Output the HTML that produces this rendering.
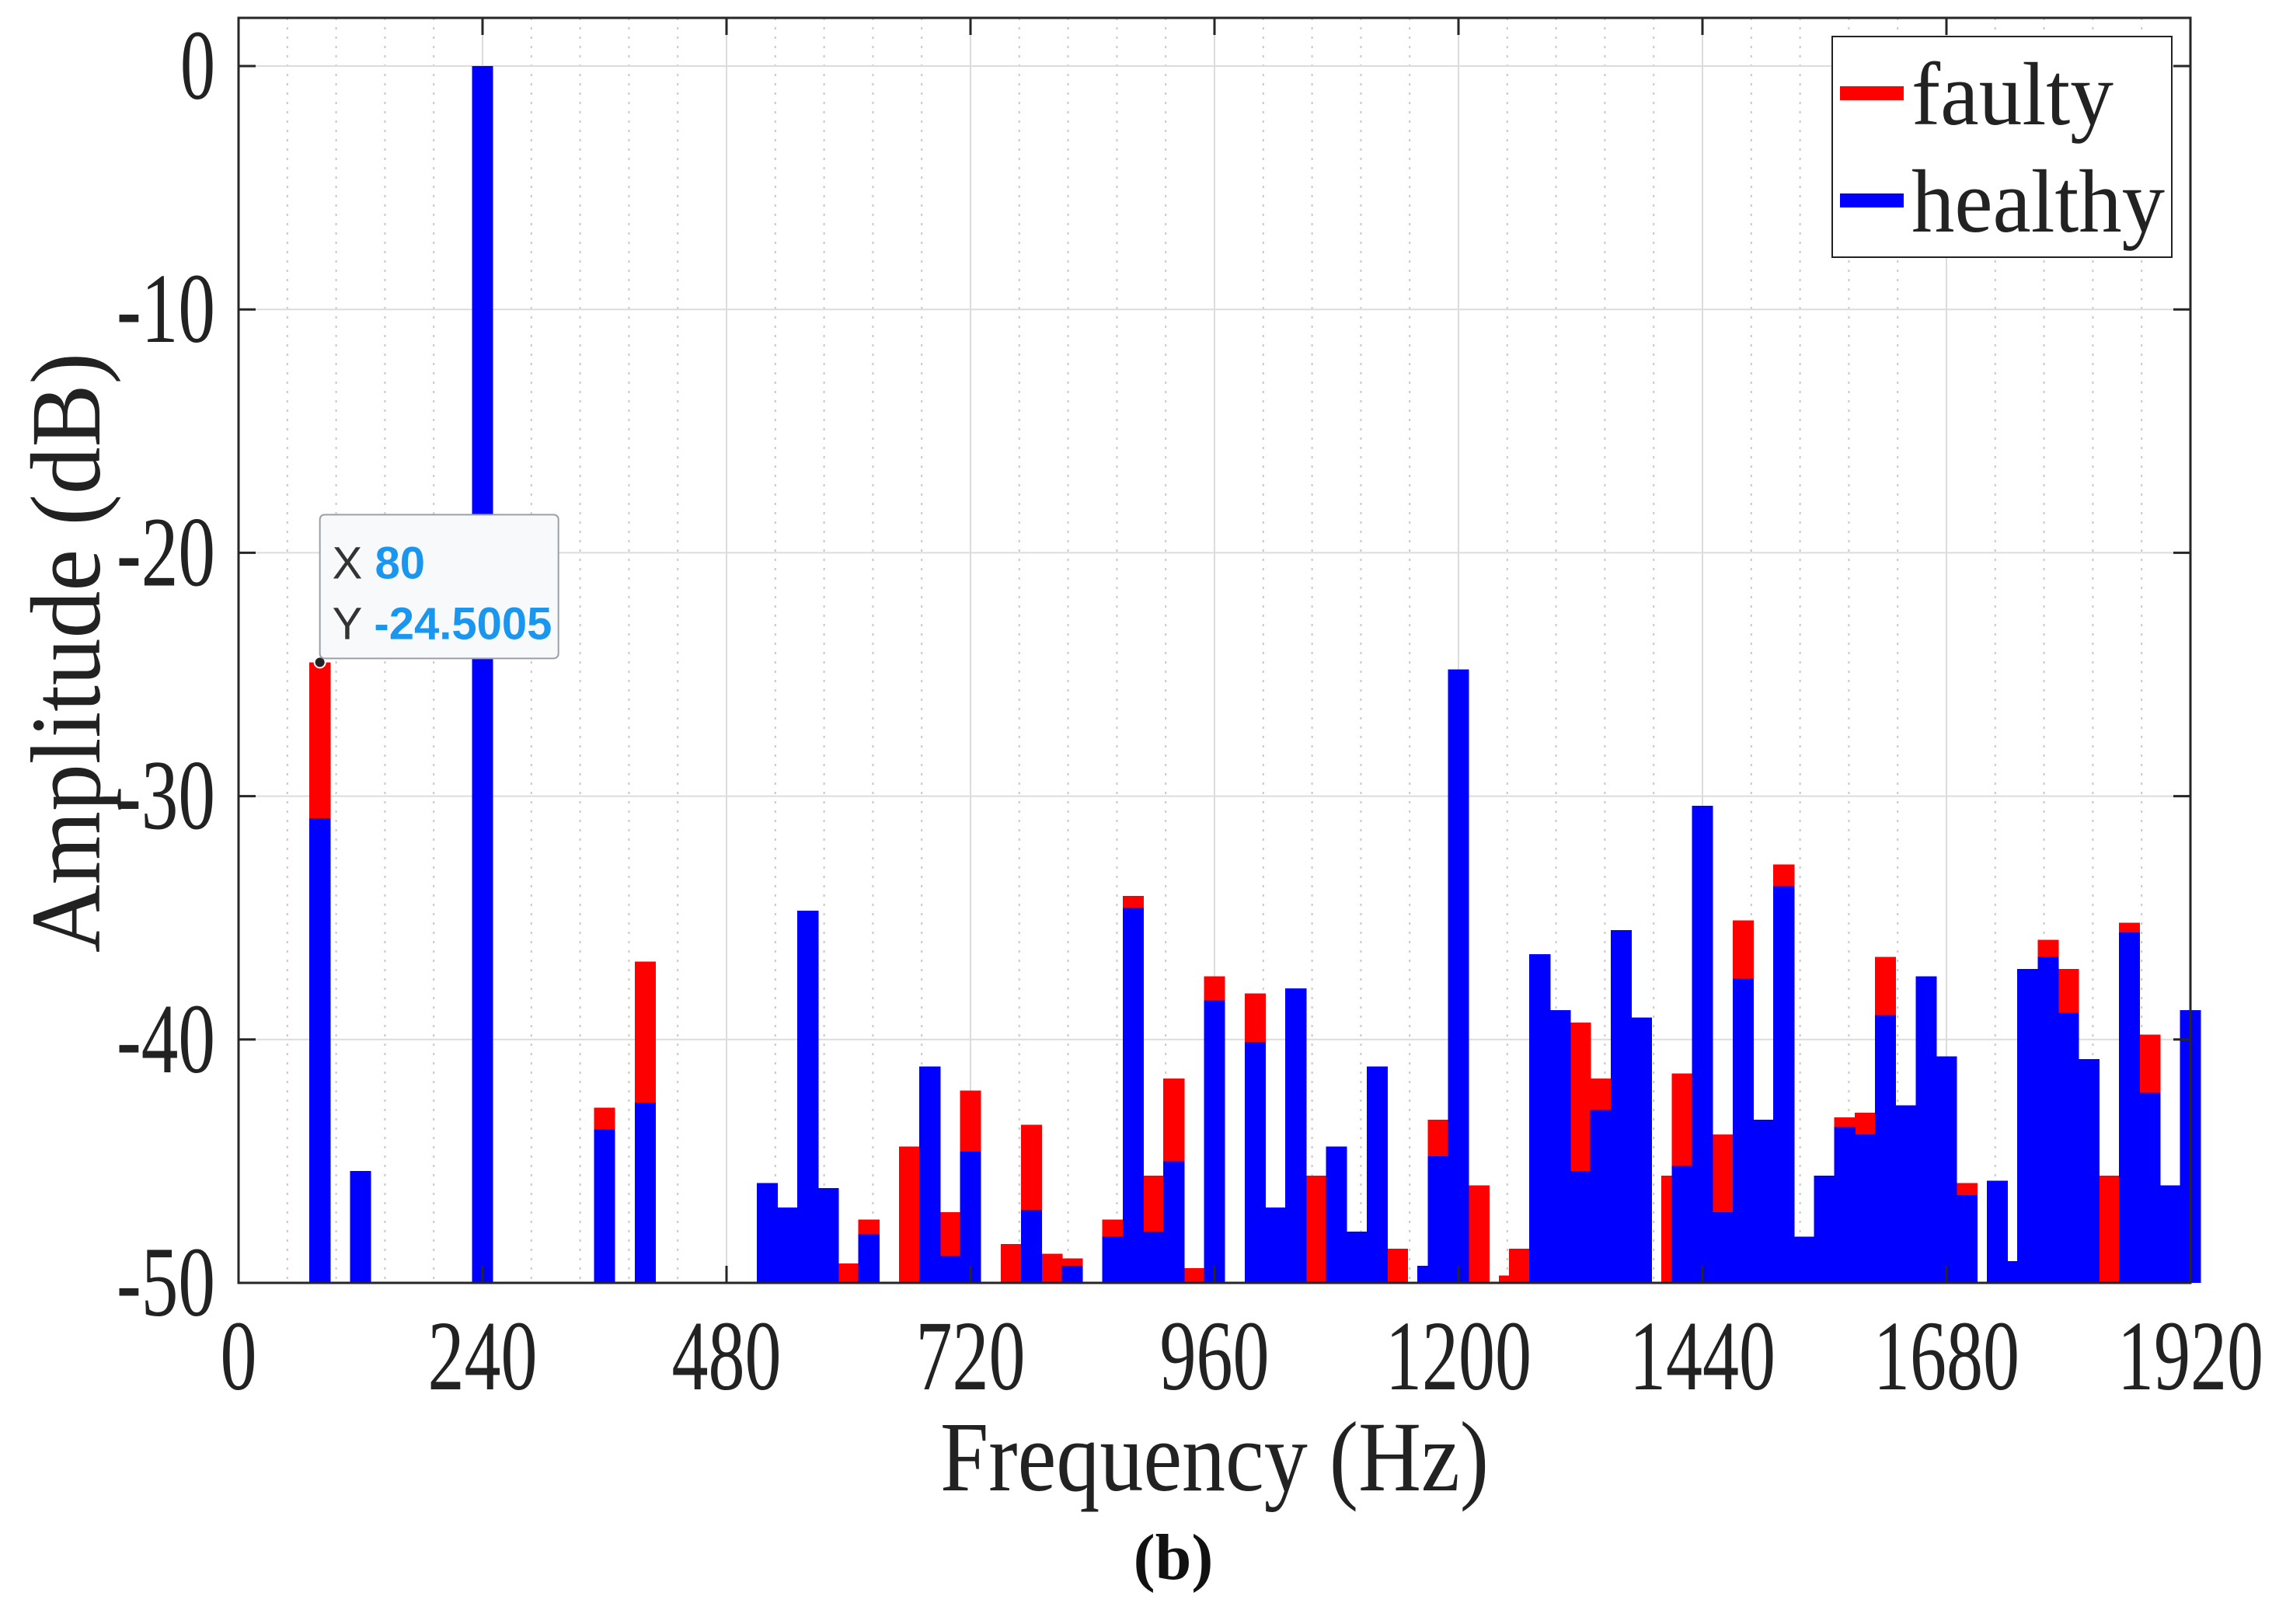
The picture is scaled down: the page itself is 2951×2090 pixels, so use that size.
<!DOCTYPE html>
<html><head><meta charset="utf-8"><style>
html,body{margin:0;padding:0;background:#fff;}
svg{display:block;}
text{font-family:"Liberation Serif",serif;}
text.sans{font-family:"Liberation Sans",sans-serif;}
</style></head><body>
<svg id="chart" width="2951" height="2090" viewBox="0 0 2951 2090" xmlns="http://www.w3.org/2000/svg">
<g id="grid"></g>
<g id="bars" shape-rendering="crispEdges"></g>
<g id="axes"></g>
<text x="1563" y="1918" font-size="128" text-anchor="middle" textLength="706" lengthAdjust="spacingAndGlyphs" fill="#222">Frequency (Hz)</text>
<text transform="translate(128,840) rotate(-90)" font-size="128" text-anchor="middle" textLength="772" lengthAdjust="spacingAndGlyphs" fill="#222">Amplitude (dB)</text>
<text x="1510" y="2032" font-size="84" font-weight="bold" text-anchor="middle" fill="#111">(b)</text>
<g>
<rect x="2358" y="47" width="437" height="284" fill="#fff" stroke="#222" stroke-width="2"/>
<line x1="2368" y1="120" x2="2450" y2="120" stroke="#ff0000" stroke-width="18"/>
<text x="2460" y="160" font-size="116" textLength="260" lengthAdjust="spacingAndGlyphs" fill="#222">faulty</text>
<line x1="2368" y1="258" x2="2450" y2="258" stroke="#0000ff" stroke-width="18"/>
<text x="2460" y="298" font-size="116" textLength="326" lengthAdjust="spacingAndGlyphs" fill="#222">healthy</text>
</g>
<g id="tip"></g>
</svg>
<script>
const freqs   = [80,120,240,360,400,520,540,560,580,600,620,660,680,700,720,760,780,800,820,860,880,900,920,940,960,1000,1020,1040,1060,1080,1100,1120,1140,1170,1180,1200,1220,1250,1260,1280,1300,1320,1340,1360,1380,1410,1420,1440,1460,1480,1500,1520,1540,1560,1580,1600,1620,1640,1660,1680,1700,1730,1740,1760,1780,1800,1820,1840,1860,1880,1900,1920];
const faulty  = [-24.5,-50,-50,-42.8,-36.8,-50,-50,-50,-50,-49.2,-47.4,-44.4,-50,-47.1,-42.1,-48.4,-43.5,-48.8,-49.0,-47.4,-34.1,-45.6,-41.6,-49.4,-37.4,-38.1,-50,-50,-45.6,-50,-50,-50,-48.6,-50,-43.3,-50,-46.0,-49.7,-48.6,-50,-50,-39.3,-41.6,-50,-50,-45.6,-41.4,-50,-43.9,-35.1,-50,-32.8,-50,-50,-43.2,-43.0,-36.6,-50,-50,-50,-45.9,-50,-50,-50,-35.9,-37.1,-50,-45.6,-35.2,-39.8,-50,-42.5];
const healthy = [-30.9,-45.4,0,-43.7,-42.6,-45.9,-46.9,-34.7,-46.1,-50,-48.0,-50,-41.1,-48.9,-44.6,-50,-47.0,-50,-49.3,-48.1,-34.6,-47.9,-45.0,-50,-38.4,-40.1,-46.9,-37.9,-50,-44.4,-47.9,-41.1,-50,-49.3,-44.8,-24.8,-50,-50,-50,-36.5,-38.8,-45.4,-42.9,-35.5,-39.1,-50,-45.2,-30.4,-47.1,-37.5,-43.3,-33.7,-48.1,-45.6,-43.6,-43.9,-39.0,-42.7,-37.4,-40.7,-46.4,-45.8,-49.1,-37.1,-36.6,-38.9,-40.8,-50,-35.6,-42.2,-46.0,-38.8];
const xTicks  = [0,240,480,720,960,1200,1440,1680,1920];
const yTicks  = [0,-10,-20,-30,-40,-50];
const xTickLabels = ["0","240","480","720","960","1200","1440","1680","1920"];
const yTickLabels = ["0","-10","-20","-30","-40","-50"];
const tipX = 80, tipY = -24.5005;

const NS="http://www.w3.org/2000/svg";
const L=307,R=2819,T=23,B=1651,Y0=85;
const xs=f=>L+(f-0)/1920*(R-L);
const ys=v=>Y0+(v-0)/(-50)*(B-Y0);
function mk(tag,attrs,parent){const e=document.createElementNS(NS,tag);for(const k in attrs)e.setAttribute(k,attrs[k]);parent.appendChild(e);return e;}
const grid=document.getElementById('grid'),bars=document.getElementById('bars'),axes=document.getElementById('axes');
for(let f=48;f<1920;f+=48){ if(f%240===0)continue;
  const g=mk('line',{x1:xs(f),x2:xs(f),y1:T,y2:B,stroke:'#c8c8c8','stroke-width':2,'stroke-dasharray':'3,9'},grid);
  
  
}
xTicks.forEach(f=>{const g=mk('line',{x1:xs(f),x2:xs(f),y1:T,y2:B,stroke:'#dcdcdc','stroke-width':2},grid);
  
  });
yTicks.forEach(v=>{const g=mk('line',{x1:L,x2:R,y1:ys(v),y2:ys(v),stroke:'#dcdcdc','stroke-width':2},grid);
  
  });
const bw=(R-L)/1920*20+1;
freqs.forEach((f,i)=>{
  if(faulty[i]>-50){const r=mk('rect',{x:xs(f)-bw/2,y:ys(faulty[i]),width:bw,height:ys(-50)-ys(faulty[i]),fill:'#ff0000'},bars);
    
    }
});
freqs.forEach((f,i)=>{
  if(healthy[i]>-50){const r=mk('rect',{x:xs(f)-bw/2,y:ys(healthy[i]),width:bw,height:ys(-50)-ys(healthy[i]),fill:'#0000ff'},bars);
    
    }
});
const fr=mk('rect',{x:L,y:T,width:R-L,height:B-T,fill:'none',stroke:'#262626','stroke-width':3},axes);


xTicks.forEach((f,i)=>{
  mk('line',{x1:xs(f),x2:xs(f),y1:B,y2:B-22,stroke:'#262626','stroke-width':3},axes);
  mk('line',{x1:xs(f),x2:xs(f),y1:T,y2:T+22,stroke:'#262626','stroke-width':3},axes);
  const w=xTickLabels[i].length*47;
  const t=mk('text',{x:xs(f),y:1788,'font-size':128,'text-anchor':'middle',textLength:w,lengthAdjust:'spacingAndGlyphs',fill:'#222'},axes);
  t.textContent=xTickLabels[i];
  
  
});
yTicks.forEach((v,i)=>{
  mk('line',{x1:L,x2:L+22,y1:ys(v),y2:ys(v),stroke:'#262626','stroke-width':3},axes);
  mk('line',{x1:R,x2:R-22,y1:ys(v),y2:ys(v),stroke:'#262626','stroke-width':3},axes);
  const s=yTickLabels[i];const w=s.length===1?45:127;
  const t=mk('text',{x:277,y:ys(v)+42,'font-size':128,'text-anchor':'end',textLength:w,lengthAdjust:'spacingAndGlyphs',fill:'#222'},axes);
  t.textContent=s;
  
  
});
const tip=document.getElementById('tip');
const px=xs(tipX),py=ys(tipY);
mk('circle',{cx:px,cy:py,r:7,fill:'#222',stroke:'#fff','stroke-width':2},tip);
mk('rect',{x:px,y:py-190,width:307,height:185,rx:6,fill:'#f8f9fb',stroke:'#9aa0a8','stroke-width':2},tip);
const t1=mk('text',{class:'sans',x:px+16,y:py-108,'font-size':58,fill:'#333'},tip);
t1.innerHTML='X <tspan font-weight="bold" fill="#1a96ee">'+tipX+'</tspan>';


const t2=mk('text',{class:'sans',x:px+16,y:py-30,'font-size':58,fill:'#333'},tip);
t2.innerHTML='Y <tspan font-weight="bold" fill="#1a96ee">'+tipY+'</tspan>';


</script>
</body></html>
